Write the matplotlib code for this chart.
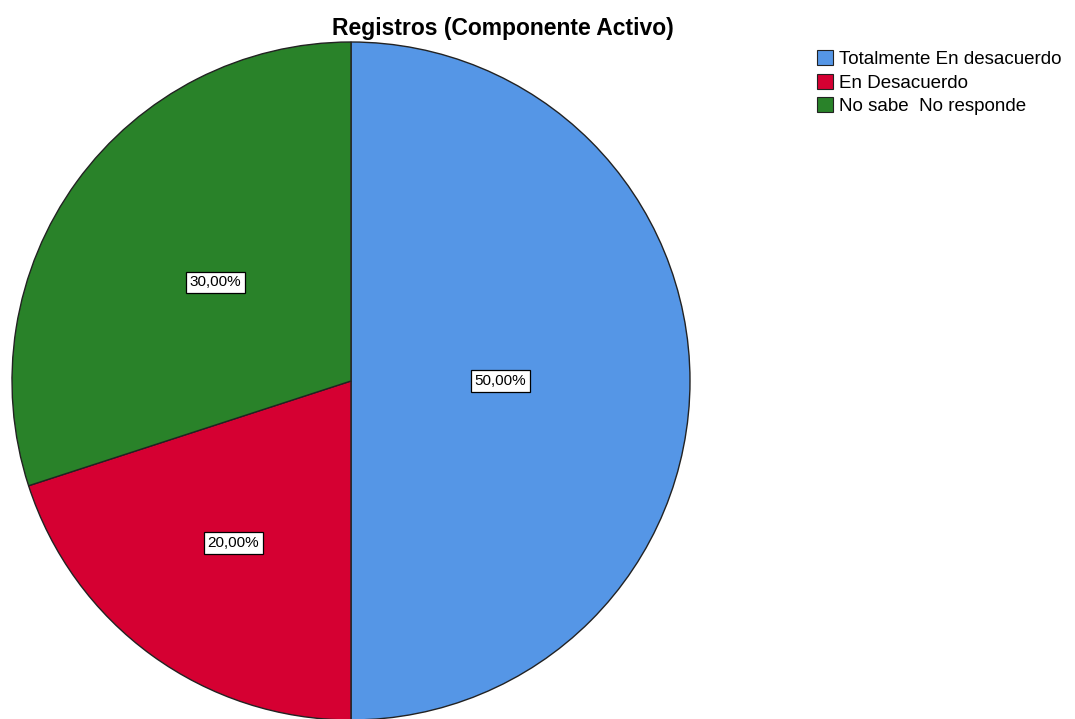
import matplotlib
matplotlib.use("Agg")
import matplotlib.pyplot as plt
from matplotlib.patches import Patch
import numpy as np

categories = ["Totalmente En desacuerdo", "En Desacuerdo", "No sabe  No responde"]
values = [50.0, 20.0, 30.0]
labels = ["50,00%", "20,00%", "30,00%"]
colors = ["#5596E6", "#D50032", "#298229"]
label_dist = [0.44, 0.59, 0.495]

plt.rcParams['font.family'] = ['Liberation Sans', 'DejaVu Sans']

W, H = 1075, 719
fig = plt.figure(figsize=(W / 100, H / 100), dpi=100)
ax = fig.add_axes([0, 0, 1, 1])
cx, cy, r = 351, H - 381, 339
wedges, _ = ax.pie(values, colors=colors, startangle=90, counterclock=False,
                   center=(cx, cy), radius=r,
                   wedgeprops=dict(edgecolor="#222222", linewidth=1.0))
for w, lab, d in zip(wedges, labels, label_dist):
    ang = np.deg2rad((w.theta1 + w.theta2) / 2)
    ax.text(cx + d * r * np.cos(ang), cy + d * r * np.sin(ang), lab,
            ha="center", va="center", fontsize=11,
            bbox=dict(boxstyle="square,pad=0.25", fc="white", ec="black", lw=0.9))
ax.set_xlim(0, W)
ax.set_ylim(0, H)
ax.set_aspect("auto")
ax.axis("off")

fig.text(503 / W, 1 - 29 / H, "Registros (Componente Activo)", ha="center", va="center",
         fontsize=16.5, fontweight="bold")

handles = [Patch(facecolor=c, edgecolor="#222222", linewidth=0.8) for c in colors]
fig.legend(handles, categories, loc="upper left", bbox_to_anchor=(817 / W, 1 - 50 / H),
           frameon=False, fontsize=13.5, handlelength=0.85, handleheight=0.85,
           handletextpad=0.3, labelspacing=0.3, borderaxespad=0, borderpad=0)

fig.savefig("out.png", dpi=100)
